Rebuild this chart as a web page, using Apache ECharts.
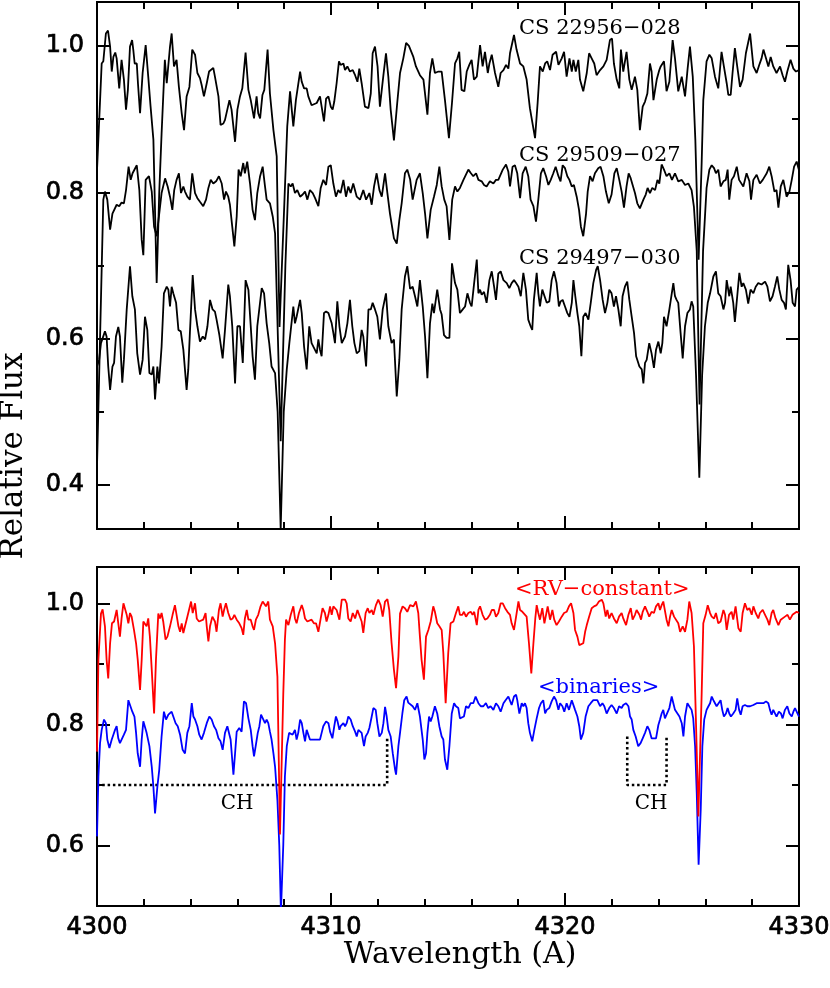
<!DOCTYPE html>
<html>
<head>
<meta charset="utf-8">
<script src="https://cdn.jsdelivr.net/npm/echarts@6/dist/echarts.min.js"></script>
<style>
  html, body { margin: 0; padding: 0; background: #fff; }
  #chart { width: 830px; height: 988px; }
</style>
</head>
<body>
<div id="chart"></div>
<script>
// spectra: [wavelength (A), relative flux]
const cs22956 = [
  [4300.00,0.830],[4300.20,0.976],[4300.27,0.979],[4300.38,1.017],[4300.47,1.021],[4300.56,0.999],[4300.63,0.965],[4300.70,0.985],
  [4300.78,0.991],[4300.84,0.983],[4300.95,0.942],[4301.05,0.981],[4301.10,0.981],[4301.15,0.954],[4301.24,0.913],[4301.32,0.940],
  [4301.41,0.999],[4301.50,1.008],[4301.55,0.995],[4301.61,0.976],[4301.70,0.976],[4301.75,0.949],[4301.84,0.908],[4301.95,0.963],
  [4302.08,1.001],[4302.19,0.958],[4302.29,0.917],[4302.41,0.872],[4302.55,0.676],[4302.66,0.800],[4302.76,0.880],[4302.90,0.981],
  [4302.98,0.949],[4303.05,0.951],[4303.12,0.999],[4303.19,1.017],[4303.29,0.972],[4303.40,0.981],[4303.50,0.944],[4303.62,0.908],
  [4303.72,0.885],[4303.83,0.931],[4303.95,0.944],[4304.07,0.995],[4304.19,0.988],[4304.29,0.963],[4304.40,0.956],[4304.47,0.947],
  [4304.57,0.931],[4304.69,0.949],[4304.79,0.965],[4304.87,0.967],[4304.97,0.970],[4305.04,0.958],[4305.19,0.931],[4305.28,0.892],
  [4305.40,0.894],[4305.47,0.899],[4305.66,0.926],[4305.75,0.913],[4305.90,0.869],[4306.00,0.913],[4306.11,0.931],[4306.21,0.942],
  [4306.35,0.991],[4306.47,0.940],[4306.57,0.926],[4306.71,0.901],[4306.82,0.931],[4306.89,0.908],[4306.97,0.901],[4307.07,0.933],
  [4307.15,0.940],[4307.29,0.995],[4307.39,0.935],[4307.54,0.885],[4307.68,0.849],[4307.80,0.616],[4308.00,0.780],[4308.13,0.890],
  [4308.25,0.938],[4308.39,0.890],[4308.50,0.926],[4308.68,0.965],[4308.75,0.951],[4308.85,0.942],[4308.96,0.942],[4309.03,0.931],
  [4309.17,0.919],[4309.39,0.922],[4309.53,0.931],[4309.60,0.917],[4309.70,0.897],[4309.79,0.928],[4309.89,0.931],[4309.99,0.917],
  [4310.07,0.913],[4310.14,0.924],[4310.24,0.949],[4310.34,0.979],[4310.41,0.974],[4310.53,0.976],[4310.60,0.967],[4310.70,0.972],
  [4310.81,0.965],[4310.93,0.967],[4311.03,0.960],[4311.13,0.951],[4311.21,0.969],[4311.31,0.949],[4311.45,0.917],[4311.60,0.915],
  [4311.70,0.935],[4311.78,0.990],[4311.88,0.999],[4311.99,0.972],[4312.09,0.917],[4312.24,0.960],[4312.35,0.990],[4312.45,0.958],
  [4312.55,0.913],[4312.69,0.871],[4312.83,0.922],[4312.95,0.963],[4313.09,0.983],[4313.21,1.004],[4313.33,1.000],[4313.52,0.985],
  [4313.63,0.972],[4313.80,0.960],[4313.95,0.954],[4314.12,0.906],[4314.23,0.963],[4314.33,0.983],[4314.44,0.963],[4314.59,0.965],
  [4314.73,0.965],[4314.87,0.926],[4315.04,0.874],[4315.17,0.922],[4315.30,0.976],[4315.40,0.983],[4315.48,0.992],[4315.58,0.940],
  [4315.70,0.938],[4315.80,0.965],[4315.91,0.974],[4316.01,0.981],[4316.11,0.954],[4316.23,0.958],[4316.37,1.001],[4316.48,0.972],
  [4316.58,0.992],[4316.70,0.963],[4316.77,0.976],[4316.87,0.988],[4317.01,0.963],[4317.15,0.944],[4317.25,0.963],[4317.37,0.967],
  [4317.48,0.974],[4317.58,0.969],[4317.65,0.990],[4317.82,1.015],[4317.93,0.995],[4318.08,0.976],[4318.22,0.972],[4318.36,0.954],
  [4318.50,0.915],[4318.72,0.874],[4318.83,0.922],[4318.93,0.972],[4319.05,0.965],[4319.15,0.976],[4319.24,0.979],[4319.36,0.967],
  [4319.47,0.988],[4319.62,0.992],[4319.72,0.974],[4319.86,0.983],[4319.96,0.992],[4320.07,0.958],[4320.19,0.983],[4320.29,0.965],
  [4320.36,0.981],[4320.46,0.965],[4320.57,0.981],[4320.64,0.954],[4320.78,0.938],[4320.93,0.963],[4321.03,0.990],[4321.14,0.983],
  [4321.25,0.976],[4321.35,0.960],[4321.50,0.967],[4321.64,0.972],[4321.78,0.981],[4321.92,1.008],[4322.01,1.010],[4322.09,0.976],
  [4322.21,0.954],[4322.32,0.942],[4322.39,0.995],[4322.49,0.965],[4322.63,0.992],[4322.75,0.954],[4322.85,0.940],[4322.99,0.958],
  [4323.09,0.940],[4323.20,0.885],[4323.32,0.917],[4323.42,0.924],[4323.52,0.935],[4323.63,0.976],[4323.70,0.965],[4323.78,0.926],
  [4323.92,0.954],[4324.03,0.967],[4324.09,0.972],[4324.23,0.979],[4324.34,0.938],[4324.46,0.951],[4324.60,1.008],[4324.70,0.983],
  [4324.84,0.938],[4324.99,0.958],[4325.13,0.931],[4325.24,0.969],[4325.34,0.999],[4325.46,0.958],[4325.57,0.872],[4325.71,0.708],
  [4325.84,0.840],[4325.91,0.926],[4326.05,0.979],[4326.17,0.988],[4326.27,0.983],[4326.41,0.958],[4326.55,0.942],[4326.69,0.992],
  [4326.79,0.972],[4326.91,0.949],[4326.98,0.933],[4327.08,0.933],[4327.16,0.963],[4327.26,0.997],[4327.36,0.972],[4327.48,0.944],
  [4327.59,0.954],[4327.73,0.990],[4327.91,1.017],[4328.05,0.972],[4328.19,0.963],[4328.30,0.974],[4328.40,0.983],[4328.48,0.995],
  [4328.59,0.983],[4328.69,0.972],[4328.79,0.985],[4328.90,0.972],[4329.04,0.963],[4329.19,0.972],[4329.30,0.960],[4329.40,0.951],
  [4329.50,0.965],[4329.64,0.981],[4329.76,0.969],[4329.87,0.965],[4330.00,0.967]
];

const cs29509 = [
  [4300.00,0.425],[4300.27,0.790],[4300.34,0.801],[4300.44,0.790],[4300.56,0.749],[4300.66,0.771],[4300.74,0.769],[4300.84,0.783],
  [4300.95,0.781],[4301.05,0.786],[4301.15,0.785],[4301.24,0.803],[4301.35,0.835],[4301.44,0.817],[4301.52,0.826],[4301.70,0.837],
  [4301.81,0.803],[4301.91,0.735],[4301.98,0.714],[4302.08,0.817],[4302.22,0.822],[4302.34,0.801],[4302.44,0.753],[4302.55,0.740],
  [4302.76,0.799],[4302.91,0.819],[4303.02,0.808],[4303.12,0.794],[4303.22,0.776],[4303.30,0.803],[4303.40,0.817],[4303.50,0.826],
  [4303.59,0.799],[4303.69,0.808],[4303.76,0.801],[4303.86,0.794],[4303.97,0.790],[4304.07,0.826],[4304.19,0.799],[4304.29,0.792],
  [4304.40,0.787],[4304.54,0.781],[4304.66,0.790],[4304.76,0.806],[4304.86,0.817],[4304.97,0.812],[4305.09,0.815],[4305.21,0.822],
  [4305.33,0.812],[4305.43,0.790],[4305.51,0.801],[4305.61,0.794],[4305.68,0.783],[4305.78,0.753],[4305.87,0.726],[4305.97,0.767],
  [4306.05,0.831],[4306.14,0.822],[4306.25,0.840],[4306.32,0.826],[4306.42,0.842],[4306.54,0.812],[4306.65,0.776],[4306.75,0.762],
  [4306.85,0.799],[4306.97,0.822],[4307.08,0.835],[4307.18,0.808],[4307.25,0.790],[4307.39,0.785],[4307.51,0.767],[4307.61,0.744],
  [4307.85,0.460],[4308.05,0.700],[4308.18,0.812],[4308.28,0.808],[4308.36,0.812],[4308.46,0.799],[4308.56,0.803],[4308.68,0.794],
  [4308.79,0.797],[4308.89,0.801],[4308.99,0.790],[4309.10,0.803],[4309.22,0.799],[4309.32,0.792],[4309.46,0.781],[4309.56,0.806],
  [4309.67,0.817],[4309.79,0.810],[4309.89,0.835],[4309.99,0.837],[4310.10,0.812],[4310.21,0.794],[4310.31,0.803],[4310.41,0.799],
  [4310.53,0.817],[4310.64,0.794],[4310.74,0.808],[4310.84,0.799],[4310.95,0.812],[4311.10,0.794],[4311.24,0.790],[4311.38,0.803],
  [4311.50,0.790],[4311.64,0.799],[4311.74,0.783],[4311.84,0.808],[4311.95,0.826],[4312.07,0.803],[4312.17,0.794],[4312.31,0.826],
  [4312.41,0.799],[4312.52,0.771],[4312.69,0.737],[4312.81,0.730],[4312.92,0.762],[4313.02,0.785],[4313.16,0.826],[4313.26,0.831],
  [4313.38,0.818],[4313.49,0.790],[4313.66,0.817],[4313.80,0.826],[4313.92,0.799],[4314.02,0.771],[4314.12,0.737],[4314.26,0.776],
  [4314.40,0.794],[4314.52,0.810],[4314.63,0.835],[4314.73,0.808],[4314.84,0.790],[4314.94,0.781],[4315.06,0.735],[4315.18,0.790],
  [4315.30,0.808],[4315.40,0.801],[4315.51,0.806],[4315.66,0.817],[4315.87,0.831],[4315.98,0.826],[4316.08,0.822],[4316.20,0.826],
  [4316.30,0.817],[4316.44,0.815],[4316.54,0.810],[4316.65,0.808],[4316.79,0.815],[4316.94,0.812],[4317.05,0.817],[4317.15,0.817],
  [4317.22,0.819],[4317.34,0.831],[4317.48,0.838],[4317.58,0.828],[4317.65,0.808],[4317.76,0.835],[4317.86,0.837],[4317.96,0.826],
  [4318.08,0.792],[4318.19,0.826],[4318.32,0.835],[4318.43,0.822],[4318.53,0.790],[4318.65,0.781],[4318.76,0.760],[4318.86,0.790],
  [4318.97,0.826],[4319.07,0.833],[4319.19,0.822],[4319.29,0.810],[4319.39,0.817],[4319.50,0.826],[4319.60,0.835],[4319.72,0.822],
  [4319.81,0.815],[4319.90,0.837],[4320.00,0.833],[4320.10,0.822],[4320.19,0.817],[4320.29,0.808],[4320.38,0.810],[4320.50,0.794],
  [4320.60,0.776],[4320.68,0.753],[4320.78,0.740],[4320.90,0.771],[4320.97,0.801],[4321.07,0.822],[4321.18,0.815],[4321.28,0.826],
  [4321.42,0.833],[4321.52,0.835],[4321.64,0.822],[4321.75,0.801],[4321.87,0.785],[4321.99,0.797],[4322.11,0.826],[4322.21,0.833],
  [4322.32,0.817],[4322.42,0.801],[4322.52,0.779],[4322.63,0.808],[4322.72,0.826],[4322.81,0.819],[4322.89,0.810],[4322.99,0.799],
  [4323.09,0.785],[4323.20,0.778],[4323.35,0.790],[4323.45,0.797],[4323.53,0.806],[4323.63,0.799],[4323.73,0.806],[4323.85,0.803],
  [4323.95,0.817],[4324.03,0.812],[4324.13,0.838],[4324.23,0.831],[4324.34,0.822],[4324.46,0.826],[4324.57,0.817],[4324.70,0.826],
  [4324.84,0.815],[4324.99,0.817],[4325.13,0.810],[4325.27,0.812],[4325.41,0.803],[4325.51,0.780],[4325.63,0.720],[4325.75,0.510],
  [4325.90,0.720],[4326.05,0.806],[4326.17,0.831],[4326.27,0.837],[4326.37,0.833],[4326.45,0.826],[4326.55,0.831],[4326.65,0.808],
  [4326.77,0.815],[4326.87,0.817],[4326.95,0.831],[4327.02,0.790],[4327.12,0.817],[4327.22,0.822],[4327.34,0.835],[4327.44,0.817],
  [4327.52,0.815],[4327.62,0.808],[4327.76,0.826],[4327.88,0.815],[4327.95,0.790],[4328.05,0.817],[4328.19,0.824],[4328.33,0.812],
  [4328.45,0.817],[4328.62,0.826],[4328.73,0.835],[4328.83,0.822],[4328.95,0.801],[4329.04,0.803],[4329.12,0.779],[4329.22,0.808],
  [4329.33,0.817],[4329.47,0.794],[4329.59,0.801],[4329.69,0.817],[4329.79,0.835],[4329.90,0.842],[4330.00,0.830]
];

const cs29497 = [
  [4300.00,0.562],[4300.09,0.571],[4300.17,0.594],[4300.34,0.610],[4300.41,0.603],[4300.48,0.562],[4300.56,0.530],[4300.66,0.562],
  [4300.73,0.567],[4300.81,0.603],[4300.91,0.616],[4300.98,0.603],[4301.08,0.540],[4301.15,0.571],[4301.27,0.640],[4301.41,0.699],
  [4301.51,0.658],[4301.62,0.640],[4301.72,0.580],[4301.84,0.551],[4301.95,0.571],[4302.05,0.630],[4302.15,0.612],[4302.24,0.553],
  [4302.34,0.551],[4302.41,0.562],[4302.48,0.517],[4302.58,0.562],[4302.65,0.539],[4302.76,0.589],[4302.86,0.662],[4302.98,0.671],
  [4303.05,0.667],[4303.12,0.644],[4303.19,0.671],[4303.26,0.662],[4303.38,0.649],[4303.48,0.612],[4303.58,0.610],[4303.69,0.585],
  [4303.83,0.530],[4303.90,0.558],[4303.97,0.608],[4304.09,0.687],[4304.19,0.640],[4304.29,0.617],[4304.40,0.596],[4304.52,0.603],
  [4304.62,0.599],[4304.72,0.617],[4304.83,0.653],[4304.94,0.640],[4305.04,0.637],[4305.11,0.626],[4305.23,0.605],[4305.37,0.573],
  [4305.47,0.612],[4305.61,0.674],[4305.68,0.658],[4305.78,0.617],[4305.90,0.539],[4306.00,0.617],[4306.11,0.617],[4306.23,0.567],
  [4306.35,0.680],[4306.47,0.667],[4306.57,0.617],[4306.65,0.576],[4306.75,0.544],[4306.85,0.617],[4307.04,0.669],[4307.14,0.662],
  [4307.25,0.621],[4307.36,0.594],[4307.46,0.562],[4307.61,0.553],[4307.72,0.500],[4307.85,0.340],[4307.98,0.500],[4308.11,0.558],
  [4308.22,0.594],[4308.39,0.644],[4308.46,0.621],[4308.53,0.630],[4308.68,0.653],[4308.75,0.635],[4308.85,0.589],[4308.96,0.558],
  [4309.07,0.617],[4309.17,0.594],[4309.25,0.594],[4309.39,0.580],[4309.46,0.599],[4309.53,0.585],[4309.60,0.576],[4309.70,0.635],
  [4309.79,0.637],[4309.89,0.635],[4309.96,0.628],[4310.03,0.621],[4310.10,0.608],[4310.17,0.594],[4310.27,0.651],[4310.36,0.617],
  [4310.46,0.594],[4310.60,0.603],[4310.70,0.621],[4310.81,0.653],[4310.91,0.617],[4311.00,0.594],[4311.10,0.580],[4311.21,0.583],
  [4311.31,0.612],[4311.38,0.603],[4311.50,0.562],[4311.60,0.640],[4311.70,0.640],[4311.78,0.649],[4311.88,0.640],[4311.98,0.630],
  [4312.09,0.599],[4312.21,0.640],[4312.35,0.662],[4312.45,0.617],[4312.59,0.594],[4312.69,0.599],[4312.81,0.521],[4312.92,0.571],
  [4313.02,0.640],[4313.16,0.685],[4313.26,0.699],[4313.38,0.668],[4313.49,0.671],[4313.59,0.658],[4313.69,0.644],[4313.80,0.680],
  [4313.92,0.644],[4314.02,0.603],[4314.12,0.546],[4314.23,0.621],[4314.33,0.648],[4314.40,0.635],[4314.54,0.667],[4314.66,0.640],
  [4314.73,0.633],[4314.83,0.605],[4314.94,0.601],[4315.06,0.601],[4315.11,0.648],[4315.17,0.703],[4315.30,0.676],[4315.40,0.667],
  [4315.51,0.635],[4315.63,0.640],[4315.73,0.644],[4315.83,0.662],[4315.94,0.649],[4316.01,0.644],[4316.11,0.674],[4316.23,0.708],
  [4316.30,0.662],[4316.37,0.667],[4316.44,0.660],[4316.54,0.664],[4316.65,0.649],[4316.77,0.680],[4316.87,0.692],[4316.97,0.671],
  [4317.05,0.653],[4317.15,0.689],[4317.25,0.692],[4317.37,0.680],[4317.51,0.676],[4317.62,0.669],[4317.72,0.676],[4317.82,0.680],
  [4317.91,0.676],[4318.01,0.671],[4318.11,0.658],[4318.22,0.690],[4318.33,0.667],[4318.43,0.626],[4318.53,0.617],[4318.60,0.612],
  [4318.67,0.653],[4318.79,0.690],[4318.86,0.662],[4318.93,0.644],[4319.03,0.667],[4319.10,0.669],[4319.22,0.649],[4319.33,0.651],
  [4319.43,0.680],[4319.53,0.692],[4319.64,0.676],[4319.74,0.644],[4319.81,0.651],[4319.90,0.653],[4320.00,0.644],[4320.10,0.635],
  [4320.19,0.630],[4320.29,0.649],[4320.36,0.680],[4320.44,0.658],[4320.53,0.635],[4320.61,0.617],[4320.70,0.576],[4320.78,0.630],
  [4320.88,0.635],[4321.00,0.626],[4321.10,0.649],[4321.21,0.676],[4321.33,0.694],[4321.40,0.699],[4321.50,0.680],[4321.61,0.653],
  [4321.71,0.635],[4321.81,0.649],[4321.89,0.667],[4321.99,0.662],[4322.09,0.644],[4322.18,0.658],[4322.28,0.640],[4322.38,0.617],
  [4322.46,0.658],[4322.56,0.671],[4322.66,0.678],[4322.75,0.653],[4322.85,0.630],[4322.95,0.608],[4323.04,0.576],[4323.18,0.562],
  [4323.28,0.558],[4323.35,0.539],[4323.42,0.567],[4323.49,0.571],[4323.60,0.594],[4323.70,0.580],[4323.80,0.560],[4323.89,0.585],
  [4323.99,0.596],[4324.09,0.580],[4324.16,0.594],[4324.23,0.630],[4324.34,0.617],[4324.46,0.640],[4324.63,0.676],[4324.70,0.658],
  [4324.77,0.653],[4324.84,0.649],[4324.94,0.608],[4325.03,0.573],[4325.13,0.617],[4325.23,0.635],[4325.34,0.640],[4325.41,0.651],
  [4325.48,0.644],[4325.60,0.550],[4325.74,0.410],[4325.86,0.550],[4325.98,0.617],[4326.10,0.649],[4326.20,0.662],[4326.34,0.685],
  [4326.45,0.692],[4326.55,0.662],[4326.65,0.658],[4326.77,0.640],[4326.84,0.649],[4326.91,0.680],[4327.02,0.658],[4327.08,0.671],
  [4327.19,0.649],[4327.26,0.623],[4327.36,0.658],[4327.45,0.690],[4327.55,0.671],[4327.62,0.676],[4327.73,0.667],[4327.83,0.648],
  [4327.93,0.667],[4328.05,0.662],[4328.15,0.671],[4328.26,0.676],[4328.40,0.674],[4328.55,0.678],[4328.65,0.671],[4328.76,0.651],
  [4328.87,0.658],[4328.97,0.671],[4329.07,0.685],[4329.16,0.667],[4329.26,0.653],[4329.36,0.649],[4329.44,0.640],[4329.54,0.701],
  [4329.64,0.680],[4329.73,0.649],[4329.83,0.644],[4329.90,0.667],[4330.00,0.671]
];

const rvConstant = [
  [4300.00,0.755],[4300.06,0.907],[4300.17,0.983],[4300.24,0.990],[4300.34,0.962],[4300.41,0.907],[4300.48,0.876],[4300.56,0.934],
  [4300.64,0.967],[4300.73,0.970],[4300.84,0.989],[4300.91,0.967],[4300.98,0.945],[4301.05,0.975],[4301.13,1.000],[4301.20,0.997],
  [4301.27,0.981],[4301.34,0.967],[4301.41,0.984],[4301.48,0.978],[4301.58,0.956],[4301.67,0.934],[4301.74,0.907],[4301.84,0.857],
  [4301.91,0.907],[4301.98,0.970],[4302.05,0.967],[4302.12,0.962],[4302.19,0.975],[4302.26,0.945],[4302.34,0.890],[4302.44,0.818],
  [4302.52,0.907],[4302.62,0.983],[4302.69,0.975],[4302.76,0.984],[4302.83,0.970],[4302.93,0.940],[4303.01,0.945],[4303.12,0.962],
  [4303.23,0.981],[4303.33,0.997],[4303.40,0.981],[4303.48,0.962],[4303.55,0.953],[4303.62,0.967],[4303.69,0.951],[4303.76,0.962],
  [4303.83,0.973],[4303.90,0.973],[4304.02,1.003],[4304.09,0.984],[4304.19,1.000],[4304.26,0.975],[4304.36,0.970],[4304.44,0.973],
  [4304.54,0.973],[4304.64,0.984],[4304.69,0.962],[4304.76,0.937],[4304.83,0.962],[4304.93,0.978],[4305.04,0.970],[4305.11,0.953],
  [4305.21,0.989],[4305.28,1.000],[4305.37,0.978],[4305.43,0.989],[4305.51,1.000],[4305.61,0.984],[4305.71,0.973],[4305.80,0.975],
  [4305.87,0.981],[4305.97,0.973],[4306.08,0.967],[4306.18,0.959],[4306.25,0.948],[4306.32,0.975],[4306.40,0.989],[4306.47,0.973],
  [4306.57,0.973],[4306.65,0.962],[4306.71,0.956],[4306.79,0.973],[4306.89,0.981],[4306.99,0.995],[4307.08,1.003],[4307.15,1.006],
  [4307.22,0.995],[4307.32,1.003],[4307.39,0.973],[4307.51,0.962],[4307.61,0.934],[4307.71,0.879],[4307.82,0.618],[4307.96,0.850],
  [4308.03,0.940],[4308.08,0.973],[4308.18,0.964],[4308.28,0.981],[4308.39,0.995],[4308.46,0.975],[4308.53,0.967],[4308.63,0.984],
  [4308.75,0.997],[4308.82,0.989],[4308.89,0.975],[4308.99,0.970],[4309.07,0.967],[4309.17,0.973],[4309.27,0.967],[4309.36,0.967],
  [4309.46,0.953],[4309.56,0.975],[4309.64,0.992],[4309.74,0.984],[4309.81,0.970],[4309.89,0.981],[4309.96,0.995],[4310.03,0.981],
  [4310.10,0.995],[4310.17,0.997],[4310.24,0.989],[4310.36,0.973],[4310.46,1.006],[4310.60,1.006],[4310.67,1.000],[4310.74,0.975],
  [4310.84,0.970],[4310.93,0.984],[4311.03,0.975],[4311.13,0.989],[4311.21,0.989],[4311.31,0.970],[4311.38,0.951],[4311.48,0.984],
  [4311.57,0.992],[4311.64,0.984],[4311.74,0.989],[4311.81,0.981],[4311.92,0.997],[4312.02,1.006],[4312.12,0.997],[4312.21,0.978],
  [4312.31,1.003],[4312.41,1.007],[4312.49,0.989],[4312.59,0.934],[4312.69,0.890],[4312.78,0.860],[4312.88,0.912],[4312.95,0.983],
  [4313.06,0.995],[4313.16,0.992],[4313.26,0.986],[4313.38,0.997],[4313.52,0.995],[4313.63,1.003],[4313.73,0.984],[4313.80,0.945],
  [4313.87,0.907],[4313.97,0.874],[4314.06,0.945],[4314.16,0.956],[4314.26,0.970],[4314.37,0.995],[4314.44,0.986],[4314.54,0.967],
  [4314.63,0.962],[4314.73,0.956],[4314.80,0.918],[4314.90,0.835],[4315.01,0.918],[4315.11,0.967],[4315.23,0.970],[4315.34,0.984],
  [4315.44,0.995],[4315.51,0.981],[4315.61,0.981],[4315.68,0.986],[4315.77,0.978],[4315.87,0.984],[4315.97,0.986],[4316.05,0.981],
  [4316.12,0.986],[4316.23,0.964],[4316.30,0.989],[4316.37,0.995],[4316.48,0.981],[4316.58,0.973],[4316.68,0.975],[4316.79,0.981],
  [4316.87,0.989],[4316.97,0.989],[4317.05,0.978],[4317.15,0.984],[4317.25,1.000],[4317.34,1.000],[4317.44,0.992],[4317.54,0.986],
  [4317.65,0.981],[4317.72,0.967],[4317.82,0.956],[4317.91,0.978],[4318.01,1.003],[4318.08,0.989],[4318.18,0.986],[4318.26,0.984],
  [4318.36,0.978],[4318.46,0.934],[4318.56,0.884],[4318.65,0.934],[4318.73,0.975],[4318.79,0.997],[4318.86,0.984],[4318.93,0.973],
  [4319.03,0.992],[4319.12,0.967],[4319.19,0.981],[4319.26,0.995],[4319.36,0.973],[4319.46,0.989],[4319.54,0.973],[4319.64,0.964],
  [4319.74,0.970],[4319.86,0.978],[4319.96,0.984],[4320.07,0.986],[4320.17,0.995],[4320.26,1.000],[4320.36,0.984],[4320.43,0.956],
  [4320.53,0.945],[4320.61,0.931],[4320.68,0.929],[4320.78,0.934],[4320.86,0.953],[4320.93,0.964],[4321.03,0.978],[4321.14,0.992],
  [4321.24,0.995],[4321.35,0.997],[4321.45,1.003],[4321.57,1.006],[4321.64,1.000],[4321.74,0.978],[4321.81,0.989],[4321.89,0.975],
  [4321.99,0.984],[4322.09,0.975],[4322.21,0.967],[4322.31,0.978],[4322.42,0.984],[4322.49,0.975],[4322.61,0.964],[4322.71,0.981],
  [4322.81,0.992],[4322.89,0.973],[4322.99,0.981],[4323.06,0.989],[4323.18,0.981],[4323.25,0.973],[4323.32,0.986],[4323.42,0.995],
  [4323.52,0.986],[4323.60,0.978],[4323.70,0.986],[4323.80,0.984],[4323.89,0.995],[4323.99,1.000],[4324.06,0.989],[4324.13,0.997],
  [4324.20,1.003],[4324.27,1.006],[4324.34,0.973],[4324.42,0.962],[4324.49,0.978],[4324.56,0.989],[4324.66,0.978],[4324.74,0.975],
  [4324.84,0.967],[4324.92,0.953],[4325.03,0.962],[4325.13,0.953],[4325.23,0.973],[4325.31,1.003],[4325.41,0.984],[4325.51,0.929],
  [4325.60,0.800],[4325.70,0.648],[4325.84,0.850],[4325.91,0.967],[4326.01,0.981],[4326.10,0.997],[4326.20,0.984],[4326.27,0.978],
  [4326.37,0.975],[4326.45,0.984],[4326.55,0.967],[4326.65,0.970],[4326.77,0.989],[4326.84,0.981],[4326.91,0.956],[4327.01,0.981],
  [4327.12,0.986],[4327.19,0.973],[4327.29,0.995],[4327.41,0.959],[4327.51,0.953],[4327.59,0.984],[4327.69,1.000],[4327.79,0.989],
  [4327.88,0.992],[4327.98,0.981],[4328.05,0.995],[4328.15,0.984],[4328.26,0.975],[4328.33,0.984],[4328.45,0.989],[4328.55,0.981],
  [4328.65,0.973],[4328.73,0.964],[4328.83,0.984],[4328.90,0.989],[4329.00,0.975],[4329.12,0.964],[4329.22,0.973],[4329.30,0.975],
  [4329.40,0.978],[4329.51,0.981],[4329.61,0.973],[4329.72,0.981],[4329.80,0.984],[4329.90,0.986],[4330.00,0.984]
];

const binaries = [
  [4300.00,0.615],[4300.06,0.714],[4300.13,0.769],[4300.20,0.791],[4300.30,0.808],[4300.38,0.802],[4300.44,0.775],[4300.53,0.761],
  [4300.63,0.775],[4300.70,0.783],[4300.77,0.791],[4300.84,0.797],[4300.91,0.777],[4300.98,0.769],[4301.05,0.772],[4301.15,0.783],
  [4301.24,0.791],[4301.34,0.840],[4301.41,0.838],[4301.51,0.821],[4301.60,0.813],[4301.67,0.786],[4301.74,0.752],[4301.84,0.730],
  [4301.91,0.775],[4301.98,0.805],[4302.05,0.808],[4302.12,0.786],[4302.24,0.764],[4302.34,0.730],[4302.41,0.697],[4302.48,0.653],
  [4302.58,0.697],[4302.66,0.725],[4302.76,0.780],[4302.86,0.821],[4302.95,0.808],[4303.05,0.816],[4303.12,0.813],[4303.19,0.821],
  [4303.26,0.813],[4303.36,0.802],[4303.45,0.797],[4303.55,0.783],[4303.66,0.758],[4303.76,0.752],[4303.86,0.786],[4303.95,0.797],
  [4304.05,0.835],[4304.12,0.813],[4304.19,0.808],[4304.29,0.797],[4304.37,0.783],[4304.47,0.775],[4304.57,0.786],[4304.69,0.802],
  [4304.80,0.813],[4304.90,0.808],[4305.00,0.797],[4305.09,0.791],[4305.19,0.777],[4305.28,0.772],[4305.37,0.758],[4305.47,0.786],
  [4305.57,0.797],[4305.64,0.797],[4305.71,0.775],[4305.83,0.717],[4305.90,0.752],[4305.97,0.788],[4306.08,0.794],[4306.18,0.788],
  [4306.28,0.838],[4306.37,0.835],[4306.47,0.810],[4306.57,0.791],[4306.65,0.764],[4306.71,0.747],[4306.79,0.766],[4306.87,0.786],
  [4306.94,0.797],[4307.01,0.816],[4307.11,0.808],[4307.18,0.802],[4307.25,0.808],[4307.32,0.802],[4307.39,0.788],[4307.46,0.775],
  [4307.54,0.752],[4307.61,0.730],[4307.71,0.675],[4307.79,0.600],[4307.86,0.490],[4307.96,0.600],[4308.03,0.714],[4308.11,0.764],
  [4308.21,0.786],[4308.28,0.786],[4308.36,0.783],[4308.46,0.791],[4308.53,0.775],[4308.60,0.786],[4308.68,0.808],[4308.75,0.802],
  [4308.82,0.786],[4308.89,0.772],[4308.96,0.791],[4309.03,0.791],[4309.10,0.775],[4309.25,0.775],[4309.39,0.775],[4309.53,0.775],
  [4309.60,0.786],[4309.67,0.797],[4309.79,0.805],[4309.89,0.802],[4309.96,0.788],[4310.06,0.777],[4310.14,0.797],[4310.21,0.813],
  [4310.28,0.805],[4310.36,0.791],[4310.41,0.797],[4310.53,0.802],[4310.60,0.797],[4310.67,0.802],[4310.74,0.813],[4310.84,0.808],
  [4310.93,0.797],[4311.03,0.788],[4311.10,0.780],[4311.17,0.791],[4311.24,0.788],[4311.31,0.786],[4311.41,0.764],[4311.48,0.780],
  [4311.57,0.786],[4311.64,0.794],[4311.74,0.813],[4311.81,0.827],[4311.91,0.824],[4311.98,0.802],[4312.07,0.780],[4312.17,0.786],
  [4312.24,0.802],[4312.31,0.829],[4312.38,0.813],[4312.45,0.791],[4312.55,0.780],[4312.64,0.752],[4312.74,0.725],[4312.78,0.717],
  [4312.88,0.764],[4312.95,0.786],[4313.05,0.818],[4313.13,0.840],[4313.23,0.846],[4313.30,0.836],[4313.38,0.835],[4313.49,0.830],
  [4313.59,0.824],[4313.69,0.835],[4313.80,0.813],[4313.92,0.775],[4313.99,0.742],[4314.06,0.752],[4314.12,0.786],[4314.19,0.813],
  [4314.26,0.805],[4314.33,0.813],[4314.44,0.830],[4314.54,0.818],[4314.63,0.797],[4314.73,0.780],[4314.80,0.775],[4314.87,0.742],
  [4314.97,0.725],[4315.06,0.764],[4315.16,0.818],[4315.26,0.835],[4315.34,0.830],[4315.44,0.827],[4315.51,0.810],[4315.58,0.808],
  [4315.68,0.813],[4315.77,0.830],[4315.87,0.827],[4315.97,0.835],[4316.08,0.835],[4316.18,0.846],[4316.30,0.835],[4316.40,0.830],
  [4316.51,0.830],[4316.62,0.835],[4316.72,0.827],[4316.82,0.830],[4316.94,0.824],[4317.05,0.835],[4317.15,0.830],[4317.25,0.821],
  [4317.37,0.835],[4317.46,0.840],[4317.58,0.846],[4317.72,0.832],[4317.82,0.846],[4317.91,0.849],[4317.96,0.840],[4318.05,0.818],
  [4318.15,0.835],[4318.22,0.830],[4318.29,0.835],[4318.36,0.827],[4318.43,0.802],[4318.50,0.786],[4318.60,0.772],[4318.69,0.791],
  [4318.79,0.810],[4318.89,0.827],[4318.97,0.835],[4319.07,0.840],[4319.15,0.818],[4319.22,0.824],[4319.33,0.827],[4319.43,0.838],
  [4319.53,0.846],[4319.62,0.840],[4319.72,0.824],[4319.79,0.835],[4319.89,0.830],[4319.97,0.821],[4320.07,0.835],[4320.17,0.824],
  [4320.29,0.840],[4320.36,0.838],[4320.43,0.824],[4320.53,0.813],[4320.61,0.797],[4320.68,0.775],[4320.78,0.786],[4320.88,0.813],
  [4321.00,0.830],[4321.10,0.835],[4321.21,0.840],[4321.28,0.843],[4321.38,0.840],[4321.50,0.830],[4321.60,0.835],[4321.68,0.830],
  [4321.78,0.818],[4321.89,0.827],[4321.99,0.832],[4322.09,0.827],[4322.21,0.818],[4322.31,0.830],[4322.42,0.827],[4322.49,0.832],
  [4322.61,0.835],[4322.71,0.830],[4322.78,0.813],[4322.85,0.808],[4322.92,0.791],[4323.02,0.780],[4323.13,0.764],[4323.23,0.769],
  [4323.32,0.777],[4323.42,0.786],[4323.52,0.797],[4323.60,0.791],[4323.70,0.777],[4323.78,0.775],[4323.89,0.777],[4323.99,0.799],
  [4324.06,0.808],[4324.13,0.818],[4324.20,0.824],[4324.27,0.810],[4324.34,0.813],[4324.46,0.827],[4324.56,0.846],[4324.63,0.835],
  [4324.70,0.824],[4324.77,0.824],[4324.89,0.813],[4324.99,0.802],[4325.06,0.780],[4325.13,0.813],[4325.23,0.835],[4325.31,0.830],
  [4325.41,0.824],[4325.48,0.810],[4325.56,0.764],[4325.63,0.687],[4325.71,0.568],[4325.80,0.659],[4325.87,0.764],[4325.95,0.808],
  [4326.05,0.824],[4326.13,0.830],[4326.20,0.835],[4326.27,0.846],[4326.34,0.840],[4326.41,0.835],[4326.48,0.830],[4326.55,0.830],
  [4326.65,0.840],[4326.72,0.824],[4326.79,0.813],[4326.88,0.818],[4326.95,0.827],[4327.02,0.818],[4327.09,0.813],[4327.19,0.818],
  [4327.29,0.824],[4327.36,0.843],[4327.44,0.824],[4327.51,0.816],[4327.59,0.830],[4327.69,0.832],[4327.79,0.830],[4327.91,0.830],
  [4328.05,0.832],[4328.19,0.835],[4328.33,0.835],[4328.48,0.835],[4328.59,0.838],[4328.69,0.835],[4328.76,0.824],[4328.83,0.816],
  [4328.90,0.824],[4328.97,0.821],[4329.04,0.813],[4329.14,0.821],[4329.23,0.818],[4329.30,0.810],[4329.40,0.824],[4329.50,0.830],
  [4329.59,0.818],[4329.69,0.813],[4329.76,0.821],[4329.83,0.827],[4329.90,0.827],[4330.00,0.813]
];

// dotted CH band markers (bottom panel)
const chBandA = [[4300.0,0.70],[4312.4,0.70],[4312.4,0.78]];
const chBandB = [[4322.66,0.78],[4322.66,0.70],[4324.34,0.70],[4324.34,0.78]];

const xRange = [4300, 4330];
const topRange = [0.34, 1.06];
const bottomRange = [0.5, 1.06];
const topTicks = [0.4, 0.6, 0.8, 1.0];
const topMinor = [0.5, 0.7, 0.9];
const bottomTicks = [0.6, 0.8, 1.0];
const bottomMinor = [0.7, 0.9];

const TICK_FONT = 'DejaVu Sans';
const TITLE_FONT = '"DejaVu Serif", "Liberation Serif", serif';

function xAxis (grid, pos, labels) {
  return {
    type: 'value', gridIndex: grid, position: pos,
    min: xRange[0], max: xRange[1], interval: 10,
    axisLine: { show: true, onZero: false, lineStyle: { color: '#000', width: 2 } },
    axisTick: { show: true, inside: true, length: 13, lineStyle: { color: '#000', width: 2 } },
    minorTick: { show: true, splitNumber: 5, length: 7, lineStyle: { color: '#000', width: 2 } },
    axisLabel: {
      show: labels, color: '#000', fontSize: 24, fontFamily: TICK_FONT, margin: 10,
      textBorderColor: '#000', textBorderWidth: 0.7,
      formatter: v => String(v)
    },
    splitLine: { show: false },
    minorSplitLine: { show: false }
  };
}

function yAxis (grid, pos, range, ticks, len, labels) {
  return {
    type: 'value', gridIndex: grid, position: pos,
    min: range[0], max: range[1],
    axisLine: { show: true, onZero: false, lineStyle: { color: '#000', width: 2 } },
    axisTick: { show: true, inside: true, length: len, customValues: ticks, lineStyle: { color: '#000', width: 2 } },
    axisLabel: {
      show: labels, customValues: ticks, color: '#000', fontSize: 24, fontFamily: TICK_FONT, margin: 13,
      textBorderColor: '#000', textBorderWidth: 0.7,
      formatter: v => v.toFixed(1)
    },
    splitLine: { show: false }
  };
}

function spectrum (data, grid, color) {
  return {
    type: 'line', data: data,
    xAxisIndex: grid === 0 ? 0 : 2,
    yAxisIndex: grid === 0 ? 0 : 4,
    showSymbol: false, symbol: 'none', clip: true,
    lineStyle: { color: color, width: 1.8 },
    z: 3
  };
}

function band (data) {
  return {
    type: 'line', data: data, xAxisIndex: 2, yAxisIndex: 4,
    showSymbol: false, symbol: 'none',
    lineStyle: { color: '#000', width: 2.6, type: [2.5, 2.8] },
    z: 2
  };
}

function label (text, x, y, color, align, size) {
  return {
    type: 'text', x: x, y: y, z: 10,
    style: {
      text: text, fill: color, font: (size || 21) + 'px ' + TITLE_FONT,
      textAlign: align || 'left', textVerticalAlign: 'middle'
    }
  };
}

const chart = echarts.init(document.getElementById('chart'), null, { renderer: 'canvas' });
chart.setOption({
  animation: false,
  backgroundColor: '#fff',
  grid: [
    { left: 97, top: 2, width: 702, height: 527, outerBoundsMode: 'none', containLabel: false },
    { left: 97, top: 567, width: 702, height: 339, outerBoundsMode: 'none', containLabel: false }
  ],
  xAxis: [
    xAxis(0, 'bottom', false),
    xAxis(0, 'top', false),
    xAxis(1, 'bottom', true),
    xAxis(1, 'top', false)
  ],
  yAxis: [
    yAxis(0, 'left', topRange, topTicks, 13, true),
    yAxis(0, 'left', topRange, topMinor, 7, false),
    yAxis(0, 'right', topRange, topTicks, 13, false),
    yAxis(0, 'right', topRange, topMinor, 7, false),
    yAxis(1, 'left', bottomRange, bottomTicks, 13, true),
    yAxis(1, 'left', bottomRange, bottomMinor, 7, false),
    yAxis(1, 'right', bottomRange, bottomTicks, 13, false),
    yAxis(1, 'right', bottomRange, bottomMinor, 7, false)
  ],
  series: [
    spectrum(cs22956, 0, '#000'),
    spectrum(cs29509, 0, '#000'),
    spectrum(cs29497, 0, '#000'),
    spectrum(binaries, 1, '#0000ff'),
    spectrum(rvConstant, 1, '#ff0000'),
    band(chBandA),
    band(chBandB)
  ],
  graphic: [
    label('CS 22956\u2212028', 519, 29, '#000'),
    label('CS 29509\u2212027', 519, 156, '#000'),
    label('CS 29497\u2212030', 519, 259, '#000'),
    label('<RV\u2212constant>', 515, 590, '#ff0000'),
    label('<binaries>', 538, 688, '#0000ff'),
    label('CH', 237, 804, '#000', 'center', 20),
    label('CH', 651, 804, '#000', 'center', 20),
    label('Wavelength (A)', 460, 955, '#000', 'center', 30),
    {
      type: 'text', x: 14, y: 456, rotation: Math.PI / 2, z: 10,
      style: {
        text: 'Relative Flux', fill: '#000', font: '31px ' + TITLE_FONT,
        textAlign: 'center', textVerticalAlign: 'middle'
      }
    }
  ]
});
</script>
</body>
</html>
